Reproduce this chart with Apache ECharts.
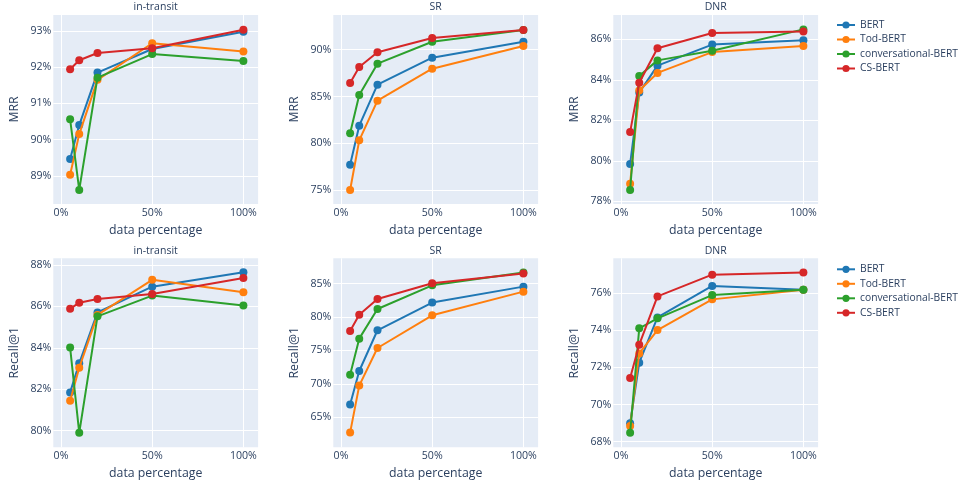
<!DOCTYPE html>
<html><head><meta charset="utf-8">
<script src="https://cdn.jsdelivr.net/npm/echarts@6/dist/echarts.min.js"></script>
<style>html,body{margin:0;padding:0;background:#fff}#c{width:959px;height:483px}</style>
</head><body><div id="c"></div>
<script>
// ---- data ----
const dataPct = [5, 10, 20, 50, 100];
const modelNames = ['BERT', 'Tod-BERT', 'conversational-BERT', 'CS-BERT'];
const subplotTitles = ['in-transit', 'SR', 'DNR'];
const metricNames = ['MRR', 'Recall@1'];
const xTickValues = [0, 50, 100];

// rows: BERT, Tod-BERT, conversational-BERT, CS-BERT
const mrrInTransit = [
  [89.46, 90.40, 91.85, 92.50, 92.98],
  [89.03, 90.15, 91.65, 92.66, 92.43],
  [90.56, 88.61, 91.71, 92.36, 92.17],
  [91.94, 92.19, 92.39, 92.52, 93.03]
];
const mrrSR = [
  [77.73, 81.89, 86.27, 89.15, 90.85],
  [75.03, 80.33, 84.56, 87.97, 90.39],
  [81.08, 85.16, 88.51, 90.85, 92.10],
  [86.44, 88.15, 89.72, 91.24, 92.10]
];
const mrrDNR = [
  [79.84, 83.37, 84.70, 85.74, 85.95],
  [78.87, 83.47, 84.34, 85.37, 85.67],
  [78.56, 84.19, 84.96, 85.44, 86.49],
  [81.42, 83.86, 85.56, 86.31, 86.38]
];
const recallInTransit = [
  [81.85, 83.25, 85.71, 86.95, 87.65],
  [81.45, 83.04, 85.59, 87.28, 86.68],
  [84.01, 79.90, 85.52, 86.52, 86.04],
  [85.88, 86.18, 86.36, 86.60, 87.37]
];
const recallSR = [
  [66.90, 71.93, 78.02, 82.16, 84.55],
  [62.71, 69.74, 75.37, 80.26, 83.80],
  [71.38, 76.77, 81.21, 84.75, 86.65],
  [77.92, 80.36, 82.71, 85.05, 86.50]
];
const recallDNR = [
  [68.99, 72.25, 74.69, 76.38, 76.18],
  [68.84, 72.75, 74.01, 75.66, 76.18],
  [68.48, 74.10, 74.64, 75.89, 76.18],
  [71.43, 73.22, 75.82, 76.99, 77.11]
];
// y tick labels (percent)
const yTicksMrrInTransit = [89, 90, 91, 92, 93];
const yTicksMrrSR = [75, 80, 85, 90];
const yTicksMrrDNR = [78, 80, 82, 84, 86];
const yTicksRecallInTransit = [80, 82, 84, 86, 88];
const yTicksRecallSR = [65, 70, 75, 80, 85];
const yTicksRecallDNR = [68, 70, 72, 74, 76];

// ---- layout / style ----
const colors = ['#1f77b4', '#ff7f0e', '#2ca02c', '#d62728'];
const txt = '#2a3f5f';
const font = 'Open Sans';
const colLeft = [53.3, 333.3, 613.3];
const plotW = 204.8;
const rowTop = [15, 258.3];
const plotH = 189;
const xRange = [-4.22, 108.06];

const panels = [
  { row: 0, col: 0, data: mrrInTransit, ticks: yTicksMrrInTransit, range: [88.22, 93.44] },
  { row: 0, col: 1, data: mrrSR, ticks: yTicksMrrSR, range: [73.54, 93.70] },
  { row: 0, col: 2, data: mrrDNR, ticks: yTicksMrrDNR, range: [77.87, 87.20] },
  { row: 1, col: 0, data: recallInTransit, ticks: yTicksRecallInTransit, range: [79.20, 88.32] },
  { row: 1, col: 1, data: recallSR, ticks: yTicksRecallSR, range: [60.51, 88.79] },
  { row: 1, col: 2, data: recallDNR, ticks: yTicksRecallDNR, range: [67.70, 77.87] }
];

const grid = [], xAxis = [], yAxis = [], series = [], title = [];
panels.forEach((p, i) => {
  grid.push({ left: colLeft[p.col], top: rowTop[p.row], width: plotW, height: plotH,
    backgroundColor: '#E5ECF6', show: true, borderWidth: 0, containLabel: false });
  title.push({ text: subplotTitles[p.col], left: colLeft[p.col] + plotW / 2, top: rowTop[p.row] - 13,
    textAlign: 'center', padding: 0,
    textStyle: { fontFamily: font, fontSize: 10.5, fontWeight: 'normal', color: txt } });
  xAxis.push({ gridIndex: i, type: 'value', min: xRange[0], max: xRange[1],
    name: 'data percentage', nameLocation: 'middle', nameGap: 26,
    nameTextStyle: { fontFamily: font, fontSize: 12.3, color: txt, verticalAlign: 'middle' },
    axisLine: { show: false },
    axisTick: { show: false, customValues: xTickValues },
    axisLabel: { customValues: xTickValues, formatter: v => v + '%', margin: 3,
      fontFamily: font, fontSize: 10.6, color: txt },
    splitLine: { show: true, lineStyle: { color: '#ffffff', width: 1 } } });
  yAxis.push({ gridIndex: i, type: 'value', min: p.range[0], max: p.range[1],
    name: metricNames[p.row], nameLocation: 'middle', nameGap: 38.5,
    nameTextStyle: { fontFamily: font, fontSize: 12.3, color: txt, verticalAlign: 'middle' },
    axisLine: { show: false },
    axisTick: { show: false, customValues: p.ticks },
    axisLabel: { customValues: p.ticks, formatter: v => v + '%', margin: 2,
      fontFamily: font, fontSize: 10.6, color: txt },
    splitLine: { show: true, lineStyle: { color: '#ffffff', width: 1 } } });
  p.data.forEach((vals, s) => {
    series.push({ type: 'line', name: modelNames[s], xAxisIndex: i, yAxisIndex: i,
      data: dataPct.map((x, k) => [x, vals[k]]),
      symbol: 'circle', symbolSize: 8, showSymbol: true,
      lineStyle: { width: 2, color: colors[s] }, itemStyle: { color: colors[s] },
      emphasis: { disabled: true }, z: 2 + s });
  });
});

const legendBase = {
  orient: 'vertical', left: 836, padding: 0, itemWidth: 18, itemHeight: 9, itemGap: 4.5,
  data: modelNames,
  textStyle: { fontFamily: font, fontSize: 10.3, color: txt, lineHeight: 10 }
};
const legend = [
  Object.assign({}, legendBase, { top: 20 }),
  Object.assign({}, legendBase, { top: 264.3 })
];

const chart = echarts.init(document.getElementById('c'), null, { renderer: 'canvas' });
chart.setOption({ animation: false, backgroundColor: '#ffffff', color: colors,
  title, grid, xAxis, yAxis, series, legend, tooltip: { show: false } });
</script></body></html>
